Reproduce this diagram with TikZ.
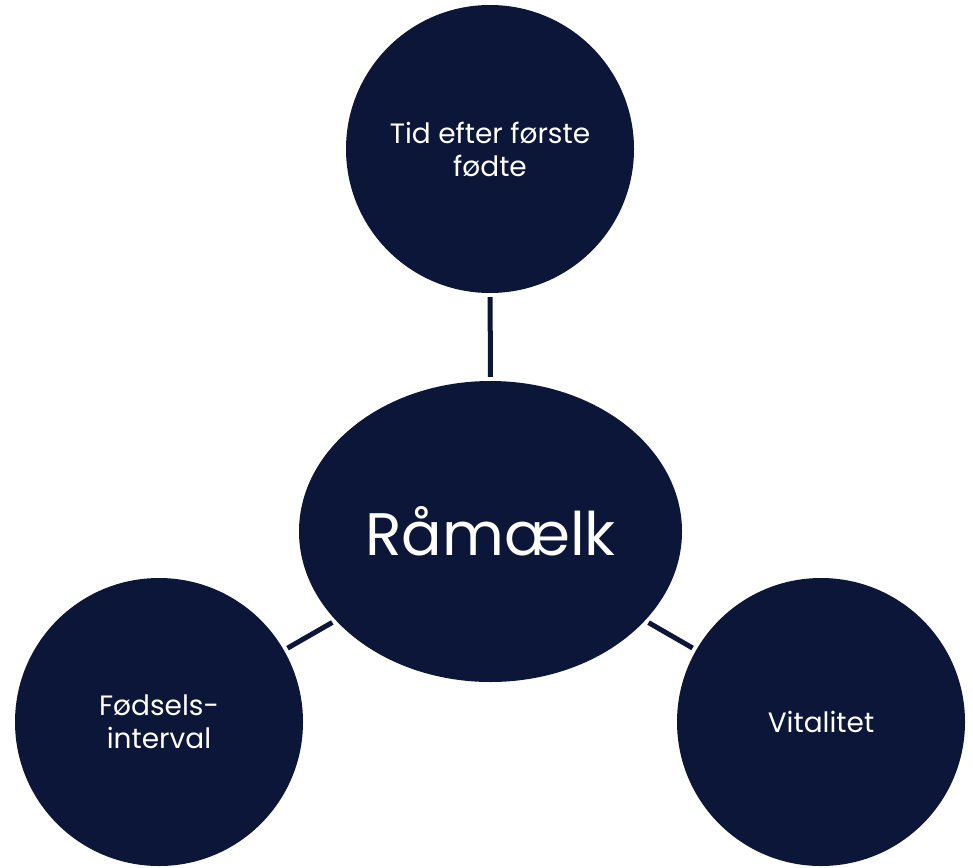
\documentclass[tikz,border=0pt]{standalone}
\usepackage{fontspec}
\setmainfont{Poppins}
\usepackage{xcolor}
\usetikzlibrary{shapes.geometric}
\definecolor{navy}{HTML}{0C1639}

\begin{document}
\begin{tikzpicture}[x=1pt, y=-1pt,
    bubble/.style={circle, fill=navy, text=white, minimum size=288pt, inner sep=0pt,
      align=center, font=\fontsize{28}{33}\selectfont},
    link/.style={draw=navy, line width=5pt, shorten <=4pt, shorten >=4pt}]
  \useasboundingbox (0,0) rectangle (973,867);
  \node[ellipse, fill=navy, text=white, minimum width=383pt, minimum height=301pt,
    inner sep=0pt, font=\fontsize{60}{66}\selectfont] (raa) at (490.5,531.5) {Råmælk};
  \node[bubble] (tid) at (490,149) {Tid efter første\\fødte};
  \node[bubble] (fods) at (159,722) {Fødsels-\\interval};
  \node[bubble] (vital) at (821,722) {Vitalitet};
  \draw[link] (tid) -- (raa);
  \draw[link] (fods) -- (raa);
  \draw[link] (vital) -- (raa);
\end{tikzpicture}
\end{document}
